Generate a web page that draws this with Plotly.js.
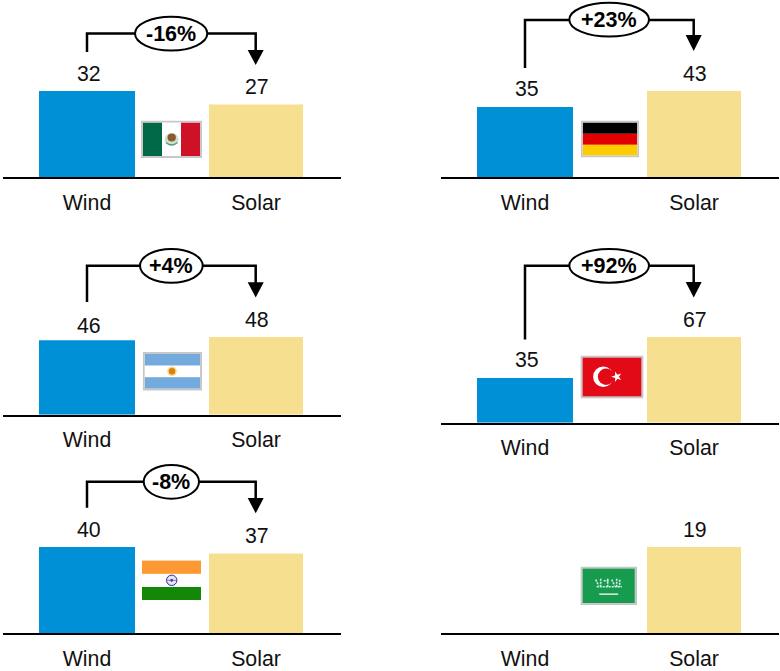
<!DOCTYPE html>
<html><head><meta charset="utf-8">
<script src="https://cdn.plot.ly/plotly-3.0.1.min.js"></script>
<style>html,body{margin:0;padding:0;background:#fff}</style></head>
<body><div id="chart" style="width:780px;height:671px"></div>
<script>
// ---- data ----
const categories = ["Wind", "Solar"];
const countries = ["Mexico", "Germany", "Argentina", "Turkey", "India", "Saudi Arabia"];
const windValues = [32, 35, 46, 35, 40, null];
const solarValues = [27, 43, 48, 67, 37, 19];
const changeLabels = ["-16%", "+23%", "+4%", "+92%", "-8%", null];

// ---- layout helpers (pixels in the 780x671 frame) ----
const W = 780, H = 671;
const px = x => x / W, py = y => 1 - y / H;
const panels = [
  {x0:3,   base:177,   tall:86,   windShift:3.3, b:{line:33.5, stem:52,  tipTop:50,  tip:65,  ex:[135,207.3], ey:[16.7,50.5]},
   flag:[141,120.5,61,37.5]},
  {x0:441, base:177,   tall:86,   windShift:3.5, b:{line:20,   stem:68,  tipTop:35,  tip:51,  ex:[569.3,649], ey:[2.8,36.6]},
   flag:[580.7,120.5,58.6,37]},
  {x0:3,   base:414.7, tall:77.7, windShift:0,   b:{line:265.7,stem:302, tipTop:282.3,tip:297.5, ex:[140,202.7], ey:[249,282.7]},
   flag:[142.7,352,59.3,38.7]},
  {x0:441, base:422.7, tall:85.7, windShift:3.5, b:{line:265.7,stem:339.5,tipTop:282,tip:297.5, ex:[569.3,649], ey:[249,282.7]},
   flag:[580.7,355.7,62.6,42.6]},
  {x0:3,   base:633,   tall:86,   windShift:3.5, b:{line:481.7,stem:507.7,tipTop:498,tip:513.3, ex:[143.7,199], ey:[465,498.7]},
   flag:[142,560,59,40]},
  {x0:441, base:633,   tall:86,   windShift:3.5, b:null,
   flag:[580.7,566.7,56,38.3]}
];
const AXW = 338, STEP = 169, C0 = 84;

function svg(w, h, inner, border) {
  const b = border ? `<rect x="1" y="1" width="${w-2}" height="${h-2}" fill="none" stroke="#c8c8c8" stroke-width="2"/>` : "";
  return "data:image/svg+xml;charset=utf-8," + encodeURIComponent(
    `<svg xmlns="http://www.w3.org/2000/svg" width="${w}" height="${h}" viewBox="0 0 ${w} ${h}">${inner}${b}</svg>`);
}
const flagArt = {
  "Mexico": svg(61,37.5,`<rect width="61" height="37.5" fill="#fff"/><rect x="2" y="2" width="19" height="33.5" fill="#006847"/><rect x="40" y="2" width="19" height="33.5" fill="#ce1126"/>
    <ellipse cx="30.7" cy="19" rx="7" ry="6.5" fill="#cfe0d0"/><ellipse cx="30.7" cy="17" rx="4.2" ry="4" fill="#8b5a2b"/><path d="M25 22 Q30.7 27 36.4 22" stroke="#5f9a7a" stroke-width="1.5" fill="none"/>`,true),
  "Germany": svg(58.6,37,`<rect width="58.6" height="37" fill="#fff"/><rect x="2" y="2" width="54.6" height="11.3" fill="#000"/><rect x="2" y="13.3" width="54.6" height="11" fill="#e00000"/><rect x="2" y="24.3" width="54.6" height="10.7" fill="#ffcc00"/>`,true),
  "Argentina": svg(59.3,38.7,`<rect width="59.3" height="38.7" fill="#fff"/><rect x="2" y="2" width="55.3" height="11.5" fill="#74abdf"/><rect x="2" y="25.2" width="55.3" height="11.5" fill="#74abdf"/>
    <circle cx="29.3" cy="19.3" r="4.8" fill="#f6b40e" opacity=".5"/><circle cx="29.3" cy="19.3" r="3.2" fill="#d9820f"/>`,true),
  "Turkey": svg(62.6,42.6,`<rect width="62.6" height="42.6" fill="#e30a17"/><circle cx="22.6" cy="21" r="10.2" fill="#fff"/><circle cx="25.4" cy="21" r="8.2" fill="#e30a17"/>
    <path d="M30.5 21 L40.5 17.8 L34.4 26.2 L34.4 15.8 L40.5 24.2 Z" fill="#fff"/>`,true),
  "India": svg(59,40,`<rect width="59" height="40" fill="#fff"/><rect y="0" width="59" height=".8" fill="#f4dcc0"/><rect y=".8" width="59" height="13" fill="#ff9933"/><rect y="27" width="59" height="13" fill="#138808"/>
    <circle cx="29.7" cy="20.3" r="5.2" fill="#e3e4f4" stroke="#2b2b8f" stroke-width="1"/><circle cx="29.7" cy="20.3" r="1.4" fill="#2b2b8f"/><path d="M24.6 20.3 H34.8" stroke="#5a5aa8" stroke-width=".7"/>`,false),
  "Saudi Arabia": svg(56,38.3,`<rect width="56" height="38.3" fill="#169b4f"/>
    <path d="M15 13 L18 19 M20 12 V20 M23 14 H28 M27 12 V20 M31 13 L34 19 M36 12 V20 M39 13 V20 M16 20 H41" stroke="#fff" stroke-width="1.6" stroke-dasharray="2 1" fill="none" opacity=".85"/>
    <path d="M18.5 27.5 H37.5" stroke="#fff" stroke-width="1.2"/>`,true)
};

// ---- build ----
const data = [], annotations = [], shapes = [], images = [];
const layout = {width:W, height:H, margin:{l:0,r:0,t:0,b:0}, paper_bgcolor:"#fff", plot_bgcolor:"rgba(0,0,0,0)",
  showlegend:false, hovermode:false, font:{family:"Liberation Sans, Arial, sans-serif", color:"#000", size:21}};

panels.forEach((p, i) => {
  const n = i + 1, sfx = i ? String(n) : "";
  const maxV = Math.max(windValues[i] || 0, solarValues[i]);
  data.push({type:"bar", x:categories, y:[windValues[i], solarValues[i]], xaxis:"x"+sfx, yaxis:"y"+sfx,
    width:[0.568,0.556], marker:{color:["#0090d6","#f7df90"], line:{width:0}}, cliponaxis:false});
  layout["xaxis"+sfx] = {domain:[px(p.x0), px(p.x0+AXW)], anchor:"y"+sfx, type:"category", categoryorder:"array", categoryarray:categories,
    range:[-C0/STEP, (AXW-C0)/STEP], showline:true, linecolor:"#000", linewidth:2, ticks:"", showgrid:false, zeroline:false,
    tickfont:{size:21.3, color:"#111"}, ticklabelstandoff:5, fixedrange:true};
  layout["yaxis"+sfx] = {domain:[py(p.base), py(p.base-p.tall)], anchor:"x"+sfx, range:[0,maxV], visible:false, fixedrange:true};
  // value labels
  [windValues[i], solarValues[i]].forEach((v, k) => {
    if (v == null) return;
    annotations.push({xref:"x"+sfx, yref:"y"+sfx, x:categories[k], y:v, yanchor:"bottom", xanchor:"center",
      yshift:k === 0 ? p.windShift : 3.4, xshift:k === 0 ? 1.7 : 0.7,
      text:String(v), showarrow:false, font:{size:21.3, color:"#111"}});
  });
  images.push({source:flagArt[countries[i]], xref:"paper", yref:"paper", x:px(p.flag[0]), y:py(p.flag[1]),
    sizex:p.flag[2]/W, sizey:p.flag[3]/H, xanchor:"left", yanchor:"top", sizing:"stretch", layer:"above"});
  if (p.b) {
    const a = p.x0 + C0, c = a + STEP - 0.3, b = p.b;
    shapes.push({type:"path", xref:"paper", yref:"paper", line:{color:"#000", width:2.5}, fillcolor:"rgba(0,0,0,0)",
      path:`M${px(a)} ${py(b.stem)} L${px(a)} ${py(b.line)} L${px(c)} ${py(b.line)} L${px(c)} ${py(b.tipTop+1)}`});
    shapes.push({type:"path", xref:"paper", yref:"paper", line:{width:0}, fillcolor:"#000",
      path:`M${px(c-8)} ${py(b.tipTop)} L${px(c+8)} ${py(b.tipTop)} L${px(c)} ${py(b.tip)} Z`});
    shapes.push({type:"circle", xref:"paper", yref:"paper", x0:px(b.ex[0]), x1:px(b.ex[1]), y0:py(b.ey[0]), y1:py(b.ey[1]),
      line:{color:"#000", width:2}, fillcolor:"#fff"});
    annotations.push({xref:"paper", yref:"paper", x:px((b.ex[0]+b.ex[1])/2), y:py((b.ey[0]+b.ey[1])/2), xanchor:"center", yanchor:"middle",
      text:"<b>"+changeLabels[i]+"</b>", showarrow:false, font:{size:21.5, color:"#000"}});
  }
});
layout.annotations = annotations; layout.shapes = shapes; layout.images = images;
Plotly.newPlot("chart", data, layout, {displayModeBar:false, staticPlot:true});
</script></body></html>
